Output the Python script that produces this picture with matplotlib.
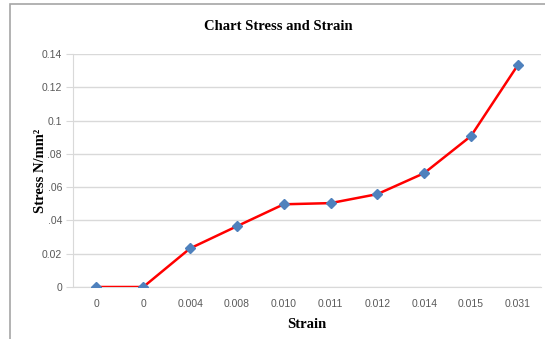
import matplotlib
matplotlib.use("Agg")
import matplotlib.pyplot as plt
from matplotlib.patches import Rectangle
from matplotlib.ticker import FixedLocator, FixedFormatter

strain_labels = ["0", "0", "0.004", "0.008", "0.010", "0.011", "0.012", "0.014", "0.015", "0.031"]
stress = [0.0, 0.0, 0.0232, 0.0365, 0.0497, 0.0504, 0.0558, 0.0684, 0.0907, 0.1333]
y_ticks = [0, 0.02, 0.04, 0.06, 0.08, 0.10, 0.12, 0.14]
y_tick_labels = ["0", "0.02", ".04", ".06", ".08", "0.1", "0.12", "0.14"]

fig = plt.figure(figsize=(5.45, 3.39), dpi=100)
ax = fig.add_axes([0.134, 0.1534, 0.859, 0.6873])

x = range(len(stress))
ax.plot(x, stress, color="#FF0000", lw=1.8, marker="D", markersize=5.5,
        markerfacecolor="#4F81BD", markeredgecolor="#4F81BD", zorder=3)

ax.set_xlim(-0.5, len(stress) - 0.5)
ax.set_ylim(0, 0.14)
ax.set_xticks(list(x))
ax.set_xticklabels(strain_labels)
ax.yaxis.set_major_locator(FixedLocator(y_ticks))
ax.yaxis.set_major_formatter(FixedFormatter(y_tick_labels))

ax.grid(axis="y", color="#D9D9D9", lw=1)
ax.set_axisbelow(True)
for s in ["top", "right"]:
    ax.spines[s].set_visible(False)
ax.spines["left"].set_color("#D9D9D9")
ax.spines["bottom"].set_color("#D9D9D9")
ax.tick_params(axis="x", length=0, pad=9, labelsize=7.5, labelcolor="#595959")
ax.tick_params(axis="y", length=5, color="#D9D9D9", pad=3, labelsize=7.5, labelcolor="#595959")
for lab in ax.get_xticklabels() + ax.get_yticklabels():
    lab.set_family("Liberation Sans")

ax.set_xlabel("Strain", family="Liberation Serif", fontweight="bold", fontsize=10.5, labelpad=6)
ax.set_ylabel("Stress N/mm²", family="Liberation Serif", fontweight="bold", fontsize=10.5, labelpad=-4)

fig.text(0.51, 1 - 27 / 339, "Chart Stress and Strain", ha="center", va="center",
         family="Liberation Serif", fontweight="bold", fontsize=10.5)

fig.patches.append(Rectangle((10 / 545, -0.1), 1.2, 1 - 4 / 339 + 0.1, transform=fig.transFigure,
                             fill=False, edgecolor="#A6A6A6", lw=1.2))

fig.savefig("out.png", dpi=100)
